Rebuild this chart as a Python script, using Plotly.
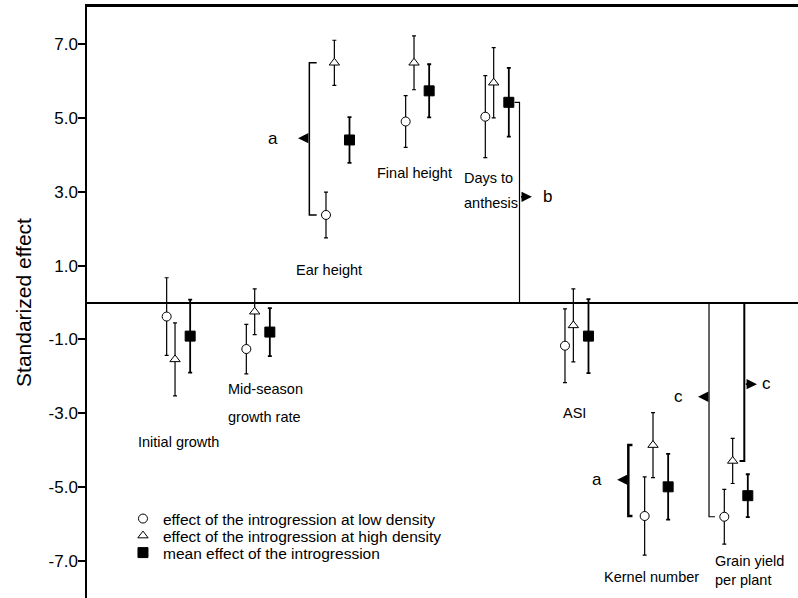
import numpy as np
import plotly.graph_objects as go

# ---------------- data ----------------
groups = ["Initial growth", "Mid-season growth rate", "Ear height", "Final height",
          "Days to anthesis", "ASI", "Kernel number", "Grain yield per plant"]
low_effect = [-0.38, -1.26, 2.37, 4.90, 5.03, -1.17, -5.78, -5.80]
low_err = [1.05, 0.67, 0.62, 0.70, 1.11, 1.00, 1.06, 0.74]
high_effect = [-1.54, -0.25, 6.49, 6.49, 5.95, -0.62, -3.86, -4.29]
high_err = [0.99, 0.62, 0.61, 0.73, 0.95, 0.99, 0.88, 0.61]
mean_effect = [-0.91, -0.80, 4.40, 5.73, 5.42, -0.91, -4.99, -5.23]
mean_err = [0.99, 0.65, 0.62, 0.72, 0.93, 1.00, 0.89, 0.58]
y_ticks = [-7, -5, -3, -1, 1, 3, 5, 7]
y_tick_labels = [f"{v:.1f}" for v in y_ticks]
series_names = ["effect of the introgression at low density",
                "effect of the introgression at high density",
                "mean effect of the introgression"]

# ---------------- layout helpers ----------------
FONT = "Liberation Sans, Arial, sans-serif"
idx = np.arange(len(groups))
x_low = idx - 0.105
x_high = idx + 0.0
x_mean = idx + 0.19

fig = go.Figure()

def add_series(x, y, err, name, symbol, fill, size, ethick, legend):
    fig.add_trace(go.Scatter(
        x=x, y=y, mode="markers", name=name, legend=legend,
        marker=dict(symbol=symbol, size=size, color=fill,
                    line=dict(color="black", width=1)),
        error_y=dict(type="data", array=err, visible=True, color="black",
                     thickness=ethick, width=2),
    ))

add_series(x_low, low_effect, low_err, series_names[0], "circle", "white", 9, 1.2, "legend")
add_series(x_high, high_effect, high_err, series_names[1], "triangle-up", "white", 9, 1.2, "legend2")
add_series(x_mean, mean_effect, mean_err, series_names[2], "square", "black", 10, 1.8, "legend3")

# ---------------- brackets (derived from the data) ----------------
def path(points):
    return "M " + " L ".join(f"{px},{py}" for px, py in points)

brackets = [
    (path([(1.778, high_effect[2]), (1.686, high_effect[2]),
           (1.686, low_effect[2]), (1.778, low_effect[2])]), 1.5),
    (path([(4.262, mean_effect[4]), (4.324, mean_effect[4]), (4.324, 0)]), 1.2),
    (path([(5.742, high_effect[6]), (5.69, high_effect[6]),
           (5.69, low_effect[6]), (5.742, low_effect[6])]), 2.5),
    (path([(6.703, 0), (6.703, low_effect[7]), (6.778, low_effect[7])]), 1.2),
    (path([(7.146, 0), (7.146, high_effect[7]), (7.086, high_effect[7])]), 2.0),
]
for p, w in brackets:
    fig.add_shape(type="path", path=p, xref="x", yref="y",
                  line=dict(color="black", width=w))

arrows = [(1.544, 1.686, 4.45), (4.48, 4.324, 2.86), (5.55, 5.69, -4.80),
          (6.565, 6.703, -2.55), (7.305, 7.146, -2.21)]
for tip, base, ya in arrows:
    fig.add_annotation(x=tip, y=ya, ax=base, ay=ya, xref="x", yref="y",
                       axref="x", ayref="y", text="", showarrow=True,
                       arrowhead=2, arrowsize=1.3, arrowwidth=1.6,
                       arrowcolor="black", standoff=0, startstandoff=0)

letters = [("a", 1.23, 4.45), ("b", 4.67, 2.86), ("a", 5.30, -4.78),
           ("c", 6.326, -2.54), ("c", 7.43, -2.19)]
for t, lx, ly in letters:
    fig.add_annotation(x=lx, y=ly, xref="x", yref="y", text=t, showarrow=False,
                       font=dict(family=FONT, size=17, color="black"),
                       xanchor="center", yanchor="middle")

labels = [
    ("Initial growth", 0.04, -3.78, "center"),
    ("Mid-season", 0.64, -2.35, "left"),
    ("growth rate", 0.64, -3.11, "left"),
    ("Ear height", 1.93, 0.88, "center"),
    ("Final height", 3.006, 3.50, "center"),
    ("Days to", 3.60, 3.36, "left"),
    ("anthesis", 3.60, 2.69, "left"),
    ("ASI", 5.02, -3.00, "center"),
    ("Kernel number", 5.975, -7.42, "center"),
    ("Grain yield", 6.753, -6.99, "left"),
    ("per plant", 6.753, -7.52, "left"),
]
for t, lx, ly, anc in labels:
    fig.add_annotation(x=lx, y=ly, xref="x", yref="y", text=t, showarrow=False,
                       font=dict(family=FONT, size=14.5, color="black"),
                       xanchor=anc, yanchor="middle")

legend_style = dict(x=0.0506, xanchor="left", yanchor="middle",
                    bgcolor="rgba(0,0,0,0)", borderwidth=0,
                    font=dict(family=FONT, size=15.5, color="black"))

fig.update_layout(
    width=798, height=598,
    margin=dict(l=87, r=0, t=7, b=0),
    paper_bgcolor="white", plot_bgcolor="white",
    font=dict(family=FONT, color="black"),
    showlegend=True,
    legend=dict(y=0.1337, **legend_style),
    legend2=dict(y=0.1049, **legend_style),
    legend3=dict(y=0.0761, **legend_style),
    xaxis=dict(range=[-1.105, 7.82], side="top", showline=True, linecolor="black",
               linewidth=2.5, showticklabels=False, ticks="", showgrid=False,
               zeroline=False, fixedrange=True, automargin=False),
    yaxis=dict(range=[-8, 8], tickvals=y_ticks, ticktext=y_tick_labels,
               ticks="outside", ticklen=7, tickwidth=1.5, tickcolor="black",
               ticklabelstandoff=-3, automargin=False,
               showline=True, linecolor="black", linewidth=1.5,
               showgrid=False, zeroline=True, zerolinecolor="black",
               zerolinewidth=2, tickfont=dict(family=FONT, size=17, color="black"),
               title=dict(text="Standarized effect", standoff=11,
                          font=dict(family=FONT, size=21, color="black"))),
)

fig.write_html("out.html", config={"displayModeBar": False},
               post_script="document.body.style.margin='0px';")
